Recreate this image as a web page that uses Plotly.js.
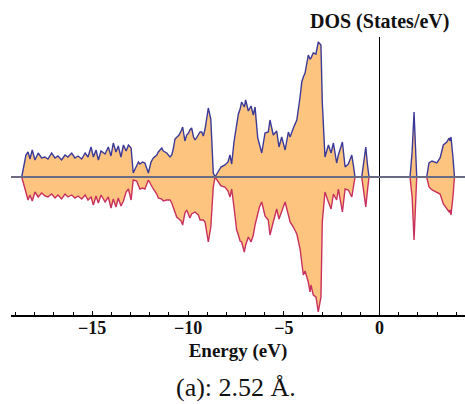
<!DOCTYPE html>
<html>
<head>
<meta charset="utf-8">
<script src="https://cdn.plot.ly/plotly-3.0.1.min.js"></script>
<style>html,body{margin:0;padding:0;background:#fff;}#chart{width:465px;height:404px;}</style>
</head>
<body>
<div id="chart"></div>
<script>
// Energy grid (eV) shared by both spin channels
const energy = [
 -18.68,-18.56,-18.46,-18.35,-18.25,-18.13,-17.99,-17.82,-17.64,-17.47,-17.31,-17.12,-16.94,-16.79,-16.60,-16.42,-16.27,-16.07,-15.90,-15.74,-15.55,-15.37,-15.22,-15.06,-14.94,-14.80,-14.68,-14.54,-14.33,-14.16,-14.02,-13.90,-13.76,-13.64,-13.50,-13.37,-13.23,-13.11,-12.97,
 -12.86,-12.68,-12.59,-12.51,-12.38,-12.25,-12.07,-11.93,-11.81,-11.63,-11.55,-11.37,-11.29,-11.11,-10.94,-10.85,-10.77,-10.68,-10.59,-10.47,-10.36,-10.28,-10.16,-10.07,-9.97,-9.90,-9.81,-9.71,-9.63,-9.46,-9.37,-9.28,-9.20,-9.11,-9.02,-8.94,-8.81,-8.75,-8.68,-8.59,
 -8.43,-8.28,-8.07,-7.91,-7.81,-7.72,-7.60,-7.46,-7.37,-7.28,-7.20,-7.06,-6.99,-6.85,-6.71,-6.59,-6.50,-6.36,-6.27,-6.15,-5.98,-5.81,-5.72,-5.55,-5.37,-5.25,-5.11,-4.93,-4.76,-4.67,-4.50,-4.32,-4.15,-4.06,-3.98,-3.89,-3.72,-3.63,-3.58,-3.46,-3.32,-3.20,-3.06,-2.99,-2.85,-2.67,-2.53,-2.41,-2.24,-2.15,-1.94,-1.80,-1.63,-1.45,-1.37,-1.28,
 -0.93,-0.82,-0.72,-0.63,-0.55,
 1.59,1.70,1.80,1.88,1.94,
 2.46,2.58,2.74,2.87,2.99,3.16,3.33,3.51,3.63,3.68,3.73,3.83,3.91
];
// Spin-up DOS (States/eV)
const dosUp = [
 0,1.2,2.2,2.5,1.8,2.7,1.7,2.4,1.9,2.0,1.8,2.4,1.9,2.1,1.7,2.2,2.0,2.4,1.9,2.1,1.8,2.4,2.0,3.0,2.0,2.7,1.7,2.6,2.3,3.0,2.1,3.4,2.5,3.1,2.0,3.2,2.6,3.2,2.9,
 0.4,1.2,1.5,1.3,1.5,1.4,0.4,1.5,1.9,2.2,2.5,2.9,2.6,2.4,2.0,2.2,2.8,3.8,4.0,4.2,4.6,5.0,3.6,4.2,4.4,4.7,4.9,4.0,3.7,4.2,4.5,4.5,4.1,4.8,5.8,6.9,5.8,3.0,0.4,0,
 0.6,1.0,1.2,1.5,2.2,1.3,3.5,5.5,6.3,6.8,7.5,7.0,7.7,6.6,7.1,6.2,7.0,3.9,3.3,2.4,4.4,4.5,5.7,4.2,4.6,3.0,4.0,2.7,4.5,4.0,4.9,5.7,8.0,9.5,10.0,10.4,12.2,11.8,11.9,12.4,12.3,13.5,13.2,7.5,2.0,3.2,2.4,3.4,1.4,2.2,3.5,1.0,1.3,2.2,1.2,0,
 0,1.5,3.0,1.2,0,
 0,2.5,6.5,2.0,0,
 0,1.4,1.6,1.5,1.4,1.9,3.2,3.5,3.9,3.6,4.0,2.0,0
];
// Spin-down DOS (States/eV), plotted negative
const dosDown = [
 0,-0.8,-1.6,-2.3,-1.8,-2.4,-1.5,-2.0,-1.6,-1.9,-2.0,-1.7,-2.1,-1.8,-2.2,-1.7,-2.0,-1.8,-2.1,-1.9,-2.2,-1.8,-2.3,-2.0,-2.8,-1.9,-2.6,-1.8,-2.5,-2.0,-3.1,-2.2,-3.0,-2.1,-2.9,-2.4,-1.5,-1.2,-2.3,
 -0.3,-0.4,-0.9,-1.2,-1.1,-1.2,-0.3,-0.8,-1.2,-1.7,-2.1,-2.2,-2.4,-2.3,-2.3,-2.6,-3.0,-3.4,-4.0,-4.2,-4.4,-4.8,-3.6,-3.3,-3.8,-4.1,-3.7,-3.6,-3.5,-3.8,-4.3,-4.3,-4.3,-4.5,-5.4,-6.5,-5.0,-2.8,-1.0,0,
 -0.5,-0.9,-1.0,-1.4,-2.0,-1.2,-3.0,-5.3,-5.8,-6.4,-6.5,-7.5,-6.8,-6.0,-6.5,-5.8,-4.8,-3.6,-3.0,-2.5,-3.9,-4.3,-5.8,-4.5,-3.2,-4.2,-3.5,-2.5,-3.8,-4.5,-5.0,-5.7,-7.2,-8.5,-9.8,-9.4,-10.5,-11.5,-10.8,-11.8,-12.0,-13.5,-12.0,-4.5,-1.5,-2.5,-3.2,-1.7,-2.3,-1.2,-3.5,-1.2,-1.3,-2.0,-1.2,0,
 0,-1.5,-3.0,-1.3,0,
 0,-2.0,-6.3,-2.5,0,
 0,-1.0,-1.3,-1.4,-1.5,-1.7,-2.7,-3.2,-3.5,-3.3,-3.8,-2.0,0
];
const xTicks = [-15,-10,-5,0];
const xTickText = ['\u221215','\u221210','\u22125','0'];

const fillColor = 'rgba(253,196,127,1)';
const serif = 'Liberation Serif, Times New Roman, serif';

const traces = [
  {x: energy, y: dosUp, type: 'scatter', mode: 'lines', fill: 'tozeroy',
   fillcolor: fillColor, line: {color: '#3c3a98', width: 1.4}, hoverinfo: 'skip'},
  {x: energy, y: dosDown, type: 'scatter', mode: 'lines', fill: 'tozeroy',
   fillcolor: fillColor, line: {color: '#c8305e', width: 1.4}, hoverinfo: 'skip'}
];

const layout = {
  width: 465, height: 404,
  margin: {l: 11, r: 0, t: 37, b: 89, pad: 0},
  paper_bgcolor: '#fff', plot_bgcolor: '#fff',
  showlegend: false,
  xaxis: {
    range: [-19.24, 4.46],
    showgrid: false,
    zeroline: true, zerolinecolor: '#000', zerolinewidth: 1.5,
    showline: true, linecolor: '#000', linewidth: 1.5,
    ticks: 'inside', ticklen: 4, tickwidth: 1, tickcolor: '#000',
    tickvals: xTicks, ticktext: xTickText,
    ticklabelstandoff: -4,
    minor: {dtick: 1, tick0: 0, ticks: 'inside', ticklen: 3, tickwidth: 1, tickcolor: '#000', showgrid: false},
    tickfont: {family: serif, size: 18, color: '#111', weight: 'bold'},
    title: {text: 'Energy (eV)', font: {family: serif, size: 19, color: '#111', weight: 'bold'}, standoff: 6},
    fixedrange: true
  },
  yaxis: {
    range: [-13.8, 14.0],
    showgrid: false, showticklabels: false, ticks: '', showline: false,
    zeroline: true, zerolinecolor: '#6a6a82', zerolinewidth: 1.2,
    zerolinelayer: 'above traces',
    fixedrange: true
  },
  annotations: [
    {text: 'DOS (States/eV)', xref: 'x', yref: 'paper', x: 0, y: 1.055,
     xanchor: 'center', yanchor: 'middle', showarrow: false,
     font: {family: serif, size: 20, color: '#111', weight: 'bold'}},
    {text: '(a): 2.52 \u00C5.', xref: 'paper', yref: 'paper', x: 0.4956, y: -0.26,
     xanchor: 'center', yanchor: 'middle', showarrow: false,
     font: {family: serif, size: 26, color: '#111'}}
  ]
};

Plotly.newPlot('chart', traces, layout, {displayModeBar: false, staticPlot: true});
</script>
</body>
</html>
